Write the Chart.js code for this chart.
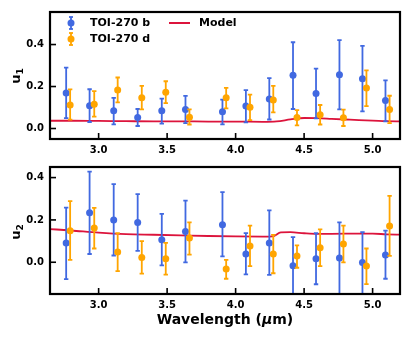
<!DOCTYPE html>
<html>
<head>
<meta charset="utf-8">
<script src="https://cdn.jsdelivr.net/npm/chart.js@4.4.1/dist/chart.umd.min.js"></script>
<style>
  html, body { margin: 0; padding: 0; background: #fff; }
  #wrap { position: relative; width: 409px; height: 338px; font-family: "DejaVu Sans", sans-serif; color: #000; }
  canvas { position: absolute; left: 0; }
  #painel1 { top: 0; }
  #painel2 { top: 155px; }
  .txt { position: absolute; font-weight: bold; font-size: 11px; line-height: 14px; white-space: nowrap; }
  .marca { position: absolute; }
  .titY { position: absolute; font-weight: bold; font-size: 13px; line-height: 16px; transform: rotate(-90deg); transform-origin: center center; white-space: nowrap; }
  .titY sub { font-size: 9px; vertical-align: -3px; }
  #titX { position: absolute; left: 50px; width: 350px; top: 311px; text-align: center; font-weight: bold; font-size: 14px; line-height: 17px; }
</style>
</head>
<body>
<div id="wrap">
  <canvas id="painel1" width="409" height="155"></canvas>
  <canvas id="painel2" width="409" height="183"></canvas>

  <svg class="marca" style="left:66px;top:16px" width="10" height="14">
    <g stroke="#4169E1" stroke-width="1.8"><line x1="5" y1="1" x2="5" y2="13"/><line x1="3" y1="1" x2="7" y2="1"/><line x1="3" y1="13" x2="7" y2="13"/></g>
    <circle cx="5" cy="7" r="3.5" fill="#4169E1"/>
  </svg>
  <div class="txt" style="left:90px;top:16px">TOI-270 b</div>
  <svg class="marca" style="left:66px;top:32px" width="10" height="14">
    <g stroke="#FFA500" stroke-width="1.8"><line x1="5" y1="1" x2="5" y2="13"/><line x1="3" y1="1" x2="7" y2="1"/><line x1="3" y1="13" x2="7" y2="13"/></g>
    <circle cx="5" cy="7" r="3.5" fill="#FFA500"/>
  </svg>
  <div class="txt" style="left:90px;top:32px">TOI-270 d</div>
  <div class="marca" style="left:169px;top:22px;width:21px;height:2px;background:#DC143C"></div>
  <div class="txt" style="left:199px;top:16px">Model</div>

  <div class="titY" style="left:10px;top:66px">u<sub>1</sub></div>
  <div class="titY" style="left:10px;top:222px">u<sub>2</sub></div>
  <div id="titX">Wavelength (<i>μ</i>m)</div>
</div>

<script>
// comprimentos de onda (um)
const comprimentosB = [2.763, 2.934, 3.110, 3.285, 3.461, 3.634, 3.904, 4.075, 4.246, 4.419, 4.587, 4.758, 4.926, 5.094];
const comprimentosD = [2.792, 2.968, 3.139, 3.315, 3.490, 3.663, 3.931, 4.105, 4.275, 4.448, 4.617, 4.787, 4.955, 5.124];

// u1
const u1B    = [0.169, 0.108, 0.084, 0.053, 0.084, 0.090, 0.080, 0.107, 0.141, 0.254, 0.167, 0.256, 0.237, 0.133];
const u1BInf = [0.049, 0.031, 0.020, 0.012, 0.023, 0.026, 0.020, 0.029, 0.043, 0.093, 0.048, 0.091, 0.082, 0.034];
const u1BSup = [0.290, 0.187, 0.146, 0.093, 0.142, 0.155, 0.138, 0.183, 0.240, 0.411, 0.285, 0.421, 0.394, 0.229];
const u1D    = [0.112, 0.116, 0.184, 0.147, 0.173, 0.054, 0.146, 0.101, 0.136, 0.053, 0.065, 0.051, 0.193, 0.091];
const u1DInf = [0.042, 0.057, 0.124, 0.091, 0.121, 0.019, 0.096, 0.040, 0.077, 0.015, 0.019, 0.012, 0.107, 0.026];
const u1DSup = [0.186, 0.178, 0.243, 0.203, 0.225, 0.091, 0.194, 0.161, 0.203, 0.088, 0.112, 0.090, 0.277, 0.156];

// u2
const u2B    = [0.091, 0.234, 0.200, 0.188, 0.106, 0.145, 0.177, 0.039, 0.091, -0.017, 0.016, 0.020, -0.001, 0.034];
const u2BInf = [-0.080, 0.039, 0.032, 0.054, -0.015, -0.001, 0.028, -0.057, -0.060, -0.160, -0.104, -0.160, -0.160, -0.078];
const u2BSup = [0.258, 0.428, 0.369, 0.322, 0.229, 0.291, 0.331, 0.138, 0.245, 0.119, 0.137, 0.188, 0.142, 0.149];
const u2D    = [0.149, 0.162, 0.048, 0.023, 0.016, 0.114, -0.032, 0.077, 0.039, 0.030, 0.068, 0.086, -0.018, 0.171];
const u2DInf = [0.011, 0.065, -0.042, -0.054, -0.058, 0.036, -0.078, -0.018, -0.052, -0.026, -0.018, -0.001, -0.103, 0.030];
const u2DSup = [0.289, 0.257, 0.138, 0.100, 0.092, 0.188, 0.011, 0.173, 0.129, 0.080, 0.155, 0.173, 0.065, 0.314];

// modelo
const modeloX1 = [2.64, 2.8, 3.0, 3.2, 3.4, 3.6, 3.8, 4.0, 4.2, 4.3, 4.4, 4.5, 4.6, 4.7, 4.8, 4.9, 5.0, 5.1, 5.21];
const modeloU1 = [0.037, 0.037, 0.036, 0.035, 0.034, 0.034, 0.033, 0.033, 0.032, 0.034, 0.043, 0.050, 0.049, 0.046, 0.043, 0.040, 0.038, 0.035, 0.034];
const modeloX2 = [2.64, 2.8, 3.0, 3.2, 3.4, 3.6, 3.8, 4.0, 4.2, 4.27, 4.33, 4.4, 4.5, 4.6, 4.8, 5.0, 5.1, 5.21];
const modeloU2 = [0.157, 0.150, 0.140, 0.133, 0.130, 0.127, 0.124, 0.122, 0.121, 0.122, 0.141, 0.142, 0.137, 0.134, 0.135, 0.135, 0.132, 0.130];

const ticksX = [3.0, 3.5, 4.0, 4.5, 5.0];
const ticksY = [0.0, 0.2, 0.4];

const azul = "#4169E1";
const laranja = "#FFA500";
const vermelho = "#DC143C";
const fonteTick = { family: "DejaVu Sans", size: 10, weight: "bold" };

function pares(xs, ys) {
  return xs.map((x, i) => ({ x: x, y: ys[i] }));
}

const pluginBarrasErro = {
  id: "barrasErro",
  beforeDatasetDraw(chart, args) {
    const ds = chart.data.datasets[args.index];
    if (!ds.erroInf) return;
    const ctx = chart.ctx;
    const a = chart.chartArea;
    const sx = chart.scales.x;
    const sy = chart.scales.y;
    ctx.save();
    ctx.beginPath();
    ctx.rect(a.left, a.top, a.width, a.height);
    ctx.clip();
    ctx.strokeStyle = ds.corErro;
    ctx.lineWidth = 1.8;
    ds.data.forEach((p, i) => {
      const px = sx.getPixelForValue(p.x);
      const y1 = sy.getPixelForValue(ds.erroInf[i]);
      const y2 = sy.getPixelForValue(ds.erroSup[i]);
      ctx.beginPath();
      ctx.moveTo(px, y1); ctx.lineTo(px, y2);
      ctx.moveTo(px - 2.2, y1); ctx.lineTo(px + 2.2, y1);
      ctx.moveTo(px - 2.2, y2); ctx.lineTo(px + 2.2, y2);
      ctx.stroke();
    });
    ctx.restore();
  }
};

const pluginMoldura = {
  id: "moldura",
  afterDraw(chart) {
    const ctx = chart.ctx;
    const a = chart.chartArea;
    const sx = chart.scales.x;
    const sy = chart.scales.y;
    ctx.save();
    ctx.strokeStyle = "#000";
    ctx.lineWidth = 1.6;
    sx.ticks.forEach(t => {
      const px = sx.getPixelForValue(t.value);
      ctx.beginPath(); ctx.moveTo(px, a.bottom); ctx.lineTo(px, a.bottom - 6); ctx.stroke();
    });
    sy.ticks.forEach(t => {
      const py = sy.getPixelForValue(t.value);
      ctx.beginPath(); ctx.moveTo(a.left, py); ctx.lineTo(a.left + 6, py); ctx.stroke();
    });
    ctx.lineWidth = 2.2;
    ctx.strokeRect(a.left, a.top, a.width, a.height);
    ctx.restore();
  }
};

function criarPainel(idCanvas, cfg) {
  return new Chart(document.getElementById(idCanvas), {
    type: "scatter",
    data: {
      datasets: [
        {
          label: "TOI-270 d",
          data: pares(comprimentosD, cfg.d),
          erroInf: cfg.dInf,
          erroSup: cfg.dSup,
          corErro: laranja,
          backgroundColor: laranja,
          borderColor: laranja,
          pointRadius: 3.5,
          pointBorderWidth: 0,
          order: 1
        },
        {
          label: "TOI-270 b",
          data: pares(comprimentosB, cfg.b),
          erroInf: cfg.bInf,
          erroSup: cfg.bSup,
          corErro: azul,
          backgroundColor: azul,
          borderColor: azul,
          pointRadius: 3.5,
          pointBorderWidth: 0,
          order: 2
        },
        {
          label: "Model",
          type: "line",
          data: pares(cfg.modeloX, cfg.modelo),
          borderColor: vermelho,
          borderWidth: 1.8,
          pointRadius: 0,
          fill: false,
          cubicInterpolationMode: "monotone",
          order: 3
        }
      ]
    },
    options: {
      responsive: false,
      animation: false,
      layout: { padding: { left: 0, right: 9, top: 9, bottom: 0 } },
      plugins: { legend: { display: false }, tooltip: { enabled: false } },
      scales: {
        x: {
          type: "linear",
          min: 2.645,
          max: 5.2,
          afterBuildTicks: s => { s.ticks = ticksX.map(v => ({ value: v })); },
          afterFit: s => { s.height = cfg.alturaX; },
          grid: { display: false, drawTicks: false },
          border: { display: false },
          ticks: { padding: 5, color: "#000", font: fonteTick, maxRotation: 0, callback: v => Number(v).toFixed(1) }
        },
        y: {
          min: cfg.yMin,
          max: cfg.yMax,
          afterBuildTicks: s => { s.ticks = ticksY.map(v => ({ value: v })); },
          afterFit: s => { s.width = 50; },
          grid: { display: false, drawTicks: false },
          border: { display: false },
          ticks: { padding: 6, color: "#000", font: fonteTick, callback: v => Number(v).toFixed(1) }
        }
      }
    },
    plugins: [pluginBarrasErro, pluginMoldura]
  });
}

criarPainel("painel1", {
  b: u1B, bInf: u1BInf, bSup: u1BSup,
  d: u1D, dInf: u1DInf, dSup: u1DSup,
  modeloX: modeloX1, modelo: modeloU1,
  yMin: -0.05, yMax: 0.555, alturaX: 16
});

criarPainel("painel2", {
  b: u2B, bInf: u2BInf, bSup: u2BSup,
  d: u2D, dInf: u2DInf, dSup: u2DSup,
  modeloX: modeloX2, modelo: modeloU2,
  yMin: -0.15, yMax: 0.45, alturaX: 44
});
</script>
</body>
</html>
